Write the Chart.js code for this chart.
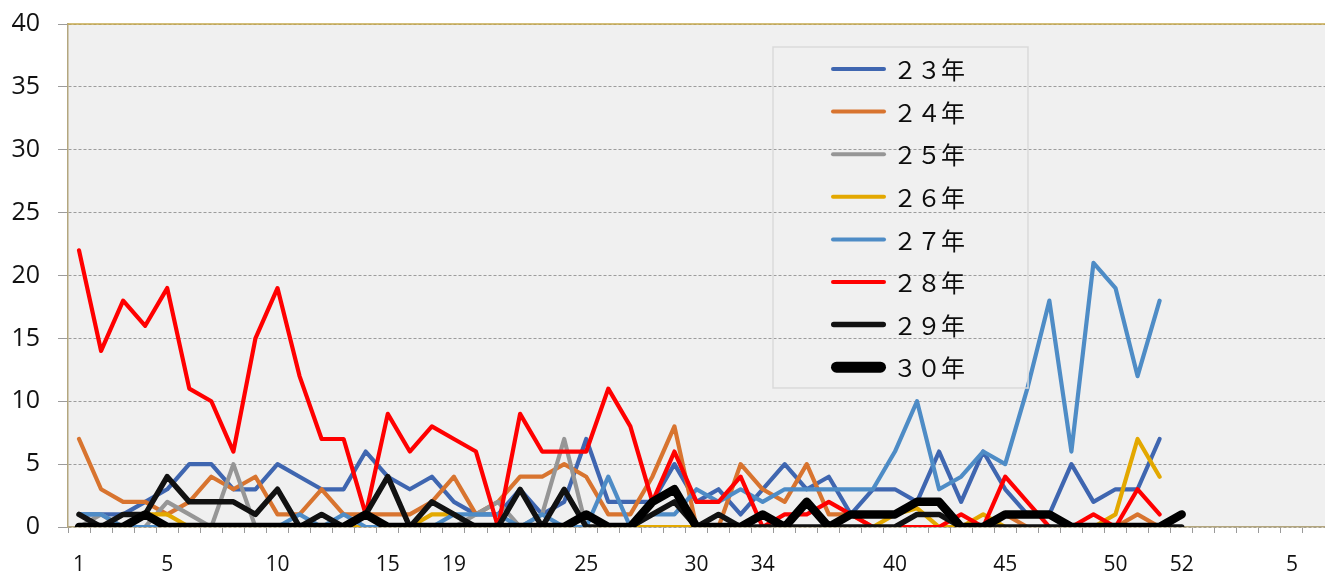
<!DOCTYPE html>
<html>
<head>
<meta charset="utf-8">
<script src="https://cdn.jsdelivr.net/npm/chart.js@4.4.1/dist/chart.umd.min.js"></script>
<style>
  html, body { margin: 0; padding: 0; background: #ffffff; overflow: hidden; }
  canvas { display: block; }
</style>
</head>
<body>
<canvas id="myChart" width="1325" height="575"></canvas>
<script>
// week labels, most of them left blank as in the original sheet
const weekLabels = ['1','','','', '5','','','','', '10','','','','', '15','','', '19','','','','','',
    '25','','','','', '30','','', '34','','','','','', '40','','','','', '45','','','','',
    '50','','', '52','','','','', '5',''];

const seriesNames = ['２３年', '２４年', '２５年', '２６年', '２７年', '２８年', '２９年', '３０年'];

const h23 = [1,1,1,2,3,5,5,3,3,5, 4,3,3,6,4,3,4,2,1,1, 3,1,2,7,2,2,2,5,2,3, 1,3,5,3,4,1,3,3,2,6, 2,6,3,1,1,5,2,3,3,7];
const h24 = [7,3,2,2,1,2,4,3,4,1, 1,3,1,1,1,1,2,4,1,2, 4,4,5,4,1,1,4,8,0,0, 5,3,2,5,1,1,0,0,0,0, 0,0,1,0,0,0,0,0,1,0];
const h25 = [0,1,0,0,2,1,0,5,0,0, 0,0,0,0,0,0,0,0,1,2, 0,1,7,0,0,0,0,0,0,0, 0,0,0,0,0,0,0,0,0,0, 0,0,0,0,0,0,0,0,0,0];
const h26 = [0,0,0,1,1,0,0,0,0,0, 0,0,0,0,0,0,1,1,0,0, 0,0,0,0,0,0,0,0,0,0, 0,0,0,0,0,0,0,1,1.5,0, 0,1,0,0,0,0,0,1,7,4];
const h27 = [1,1,0,0,0,0,0,0,0,0, 1,0,1,0,0,0,0,1,1,1, 0,1,0,0,4,0,1,1,3,2, 3,2,3,3,3,3,3,6,10,3, 4,6,5,11,18,6,21,19,12,18];
const h28 = [22,14,18,16,19,11,10,6,15,19, 12,7,7,1,9,6,8,7,6,0, 9,6,6,6,11,8,2,6,2,2, 4,0,1,1,2,1,0,0,0,0, 1,0,4,2,0,0,1,0,3,1];
const h29 = [1,0,1,1,4,2,2,2,1,3, 0,1,0,1,4,0,2,1,0,0, 3,0,3,0,0,0,1,2,0,1, 0,0,0,0,0,0,0,0,1,1, 0,0,0,0,0,0,0,0,0,0, 0];
const h30 = [0,0,0,1,0,0,0,0,0,0, 0,0,0,1,0,0,0,0,0,0, 0,0,0,1,0,0,2,3,0,0, 0,1,0,2,0,1,1,1,2,2, 0,0,1,1,1,0,0,0,0,0, 1];

const allSeries = [h23, h24, h25, h26, h27, h28, h29, h30];
const lineColors = ['#3f66b0', '#d8742f', '#969696', '#e3a800', '#4e8cc6', '#ff0000', '#111111', '#000000'];
const lineWidths = [4.2, 4.2, 4.2, 4.2, 4.2, 4.2, 5.5, 8.5];
const legendWidths = [4, 4, 4, 4, 4, 4, 5.5, 11];

// plot background and the gold frame line at the top
const plotFrame = {
    id: 'plotFrame',
    beforeDraw(chart) {
        const {ctx, chartArea: a} = chart;
        ctx.save();
        ctx.fillStyle = '#f0f0f0';
        ctx.fillRect(a.left, a.top, a.right - a.left, a.bottom - a.top);
        ctx.restore();
    },
    beforeDatasetsDraw(chart) {
        const {ctx, chartArea: a} = chart;
        ctx.save();
        ctx.strokeStyle = '#c6a94c';
        ctx.lineWidth = 1.5;
        ctx.beginPath();
        ctx.moveTo(a.left, a.top);
        ctx.lineTo(a.right, a.top);
        ctx.stroke();
        ctx.restore();
    }
};

// boxed legend inside the plot, like the excel one
const boxLegend = {
    id: 'boxLegend',
    afterDatasetsDraw(chart) {
        const ctx = chart.ctx;
        const bx = 773, by = 47, bw = 255, bh = 341;
        ctx.save();
        ctx.strokeStyle = '#dadada';
        ctx.lineWidth = 1.5;
        ctx.strokeRect(bx, by, bw, bh);
        ctx.font = '24px "Noto Sans CJK JP"';
        ctx.textBaseline = 'middle';
        ctx.fillStyle = '#0d0d0d';
        chart.data.datasets.forEach((ds, i) => {
            const y = by + 22 + i * 42.6;
            ctx.strokeStyle = ds.borderColor;
            ctx.lineWidth = legendWidths[i];
            ctx.lineCap = 'round';
            ctx.beginPath();
            ctx.moveTo(831 + legendWidths[i] / 2, y);
            ctx.lineTo(886 - legendWidths[i] / 2, y);
            ctx.stroke();
            ctx.fillText(ds.label, 893, y + 1);
        });
        ctx.restore();
    }
};

new Chart(document.getElementById('myChart'), {
    type: 'line',
    data: {
        labels: weekLabels,
        datasets: allSeries.map((d, i) => ({
            label: seriesNames[i],
            data: d,
            borderColor: lineColors[i],
            backgroundColor: lineColors[i],
            borderWidth: lineWidths[i],
            order: 7 - i,
            fill: false
        }))
    },
    options: {
        responsive: false,
        animation: false,
        layout: { padding: { top: 24, right: 0, left: 0, bottom: 0 } },
        elements: {
            point: { radius: 0, hoverRadius: 0 },
            line: { tension: 0, borderJoinStyle: 'round', borderCapStyle: 'round' }
        },
        plugins: {
            legend: { display: false },
            tooltip: { enabled: false }
        },
        scales: {
            x: {
                offset: true,
                grid: {
                    offset: true,
                    drawOnChartArea: false,
                    drawTicks: true,
                    tickLength: 6,
                    tickColor: '#9a9a9a',
                    tickWidth: 1
                },
                border: { color: '#b3a67e', width: 1.5 },
                ticks: {
                    autoSkip: false,
                    maxRotation: 0,
                    minRotation: 0,
                    padding: 19,
                    color: '#111111',
                    font: { family: 'Open Sans', size: 21 }
                },
                afterFit(s) {
                    s.height = 48;
                    s.paddingLeft = 0;
                    s.paddingRight = 0;
                }
            },
            y: {
                min: 0,
                max: 40,
                ticks: {
                    stepSize: 5,
                    padding: 18,
                    color: '#111111',
                    font: { family: 'Open Sans', size: 25 }
                },
                grid: {
                    color: '#9c9c9c',
                    lineWidth: 1,
                    tickLength: 10,
                    tickColor: '#9c9c9c'
                },
                border: { color: '#b3a67e', width: 1.5, dash: [3, 2] },
                afterFit(s) {
                    s.width = 68;
                    s.paddingTop = 0;
                    s.paddingBottom = 0;
                }
            }
        }
    },
    plugins: [plotFrame, boxLegend]
});
</script>
</body>
</html>
